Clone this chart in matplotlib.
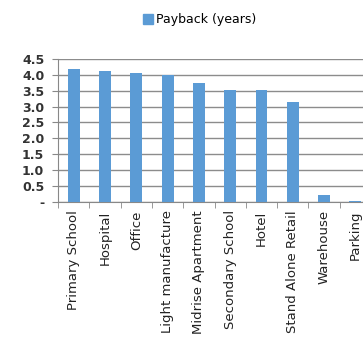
import matplotlib
matplotlib.use("Agg")
import matplotlib.pyplot as plt
import numpy as np
from matplotlib.patches import Patch

categories = ["Primary School", "Hospital", "Office", "Light manufacture",
              "Midrise Apartment", "Secondary School", "Hotel",
              "Stand Alone Retail", "Warehouse", "Parking"]
payback = [4.18, 4.12, 4.07, 3.99, 3.74, 3.53, 3.51, 3.15, 0.22, 0.02]
series_name = "Payback (years)"
ytick_vals = [0, 0.5, 1.0, 1.5, 2.0, 2.5, 3.0, 3.5, 4.0, 4.5]
ytick_labels = ["-", "0.5", "1.0", "1.5", "2.0", "2.5", "3.0", "3.5", "4.0", "4.5"]

bar_color = "#5b9bd5"
fig = plt.figure(figsize=(3.63, 3.44), dpi=100)
ax = fig.add_axes([0.16, 0.413, 0.862, 0.4157])
x = np.arange(len(categories))
ax.bar(x, payback, width=0.38, color=bar_color, zorder=3)
ax.set_xlim(-0.5, len(categories) - 0.5)
ax.set_ylim(0, 4.5)
ax.set_yticks(ytick_vals)
ax.set_yticklabels(ytick_labels, fontsize=9, fontweight="semibold", color="#333333")
ax.yaxis.grid(True, color="#8c8c8c", linewidth=1.0, zorder=0)
ax.set_xticks(x)
ax.set_xticklabels(categories, rotation=90, fontsize=9.5, color="#222222")
ax.set_xticks(np.arange(-0.5, len(categories)), minor=True)
ax.tick_params(axis="x", which="major", length=0, pad=6)
ax.tick_params(axis="x", which="minor", length=4, color="#888888")
ax.tick_params(axis="y", length=4, color="#888888", pad=6)
for s in ["top", "right"]:
    ax.spines[s].set_visible(False)
ax.spines["left"].set_color("#888888")
ax.spines["bottom"].set_color("#888888")

handles = [Patch(facecolor=bar_color, edgecolor=bar_color)]
fig.legend(handles, [series_name], loc="center", bbox_to_anchor=(0.55, 0.942),
           frameon=False, fontsize=9, handlelength=0.8, handleheight=0.8,
           handletextpad=0.2)
fig.savefig("out.png", dpi=100)
